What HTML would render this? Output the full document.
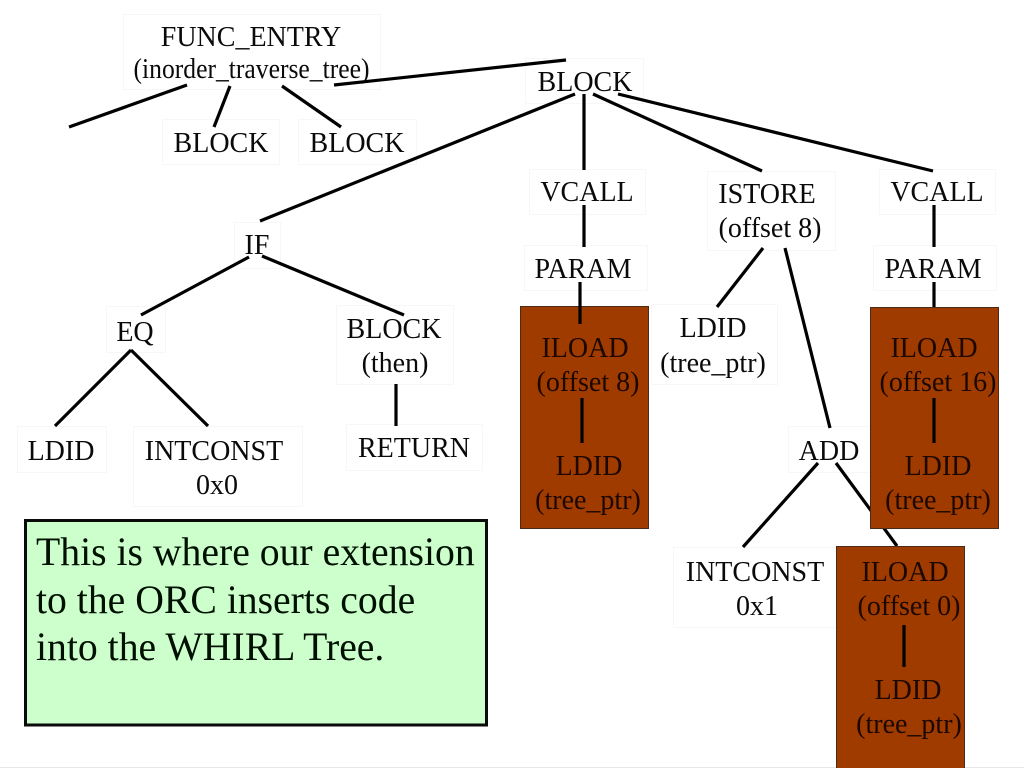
<!DOCTYPE html>
<html>
<head>
<meta charset="utf-8">
<style>
html,body{margin:0;padding:0;background:#fff;width:1024px;height:768px;overflow:hidden}
svg{display:block}
text{font-family:"Liberation Serif",serif;font-size:28px;fill:#0a0a0a;text-anchor:middle}
.b{fill:#fff;stroke:#f7f7f7;stroke-width:1}
.l{stroke:#000;stroke-width:3.2;fill:none}
.br{fill:#a03b00;stroke:#4a2a18;stroke-width:1}
.d{fill:#1c0800}
.c{font-size:39.7px;text-anchor:start;fill:#001000}
</style>
</head>
<body>
<svg width="1024" height="768" viewBox="0 0 1024 768" xmlns="http://www.w3.org/2000/svg">
<rect x="0" y="767" width="1024" height="1" fill="#e8e8e8"/>
<!-- faint boxes -->
<rect class="b" x="123.500" y="14.500" width="257" height="75"/>
<rect class="b" x="162.500" y="119.500" width="117" height="45"/>
<rect class="b" x="298.500" y="119.500" width="118" height="45"/>
<rect class="b" x="525.500" y="58.500" width="118" height="45"/>
<rect class="b" x="234.500" y="222.500" width="46" height="46"/>
<rect class="b" x="529.500" y="169.500" width="116" height="45"/>
<rect class="b" x="707.500" y="171.500" width="128" height="79"/>
<rect class="b" x="879.500" y="169.500" width="116" height="45"/>
<rect class="b" x="524.500" y="245.500" width="123" height="45"/>
<rect class="b" x="873.500" y="245.500" width="123" height="45"/>
<rect class="b" x="651.500" y="304.500" width="126" height="80"/>
<rect class="b" x="788.500" y="426.500" width="82" height="46"/>
<rect class="b" x="673.500" y="547.500" width="163" height="80"/>
<rect class="b" x="106.500" y="306.500" width="59" height="46"/>
<rect class="b" x="336.500" y="305.500" width="117" height="79"/>
<rect class="b" x="17.500" y="426.500" width="89" height="46"/>
<rect class="b" x="133.500" y="426.500" width="169" height="80"/>
<rect class="b" x="346.500" y="424.500" width="136" height="46"/>
<!-- labels on white -->
<text x="251" y="46">FUNC_ENTRY</text>
<text x="251.500" y="78" textLength="236" lengthAdjust="spacingAndGlyphs">(inorder_traverse_tree)</text>
<text x="221" y="152">BLOCK</text>
<text x="357" y="152">BLOCK</text>
<text x="585" y="91">BLOCK</text>
<text x="257" y="254">IF</text>
<text x="587" y="201">VCALL</text>
<text x="767" y="203">ISTORE</text>
<text x="770" y="237">(offset 8)</text>
<text x="937" y="201">VCALL</text>
<text x="583" y="278">PARAM</text>
<text x="933" y="278">PARAM</text>
<text x="713" y="337">LDID</text>
<text x="713" y="372">(tree_ptr)</text>
<text x="829" y="460">ADD</text>
<text x="755" y="581">INTCONST</text>
<text x="757" y="615">0x1</text>
<text x="135" y="341">EQ</text>
<text x="394" y="338">BLOCK</text>
<text x="395" y="372">(then)</text>
<text x="61" y="460">LDID</text>
<text x="214" y="460">INTCONST</text>
<text x="217" y="494">0x0</text>
<text x="414" y="457">RETURN</text>
<!-- connectors under the brown boxes -->
<g class="l">
<line x1="187" y1="85" x2="69" y2="127"/>
<line x1="230" y1="86" x2="214" y2="127"/>
<line x1="282" y1="86" x2="341" y2="127"/>
<line x1="334" y1="85" x2="566" y2="60"/>
<line x1="575" y1="94" x2="260" y2="221"/>
<line x1="584" y1="94" x2="584" y2="170"/>
<line x1="593" y1="94" x2="762" y2="171"/>
<line x1="618" y1="94" x2="933" y2="171"/>
<line x1="584" y1="205" x2="584" y2="247"/>
<line x1="934" y1="205" x2="934" y2="247"/>
<line x1="934" y1="282" x2="934" y2="307"/>
<line x1="763" y1="248" x2="717" y2="307"/>
<line x1="785" y1="248" x2="830" y2="428"/>
<line x1="818" y1="463" x2="743" y2="547"/>
<line x1="836" y1="463" x2="897" y2="546"/>
<line x1="249" y1="257" x2="141" y2="315"/>
<line x1="262" y1="256" x2="404" y2="315"/>
<line x1="131" y1="350" x2="55" y2="426"/>
<line x1="131" y1="350" x2="208" y2="426"/>
<line x1="396" y1="384" x2="396" y2="426"/>
</g>
<!-- brown boxes -->
<rect class="br" x="520.500" y="306.500" width="128" height="222"/>
<rect class="br" x="870.500" y="307.500" width="128" height="221"/>
<rect class="br" x="836.500" y="546.500" width="128" height="222"/>
<g class="l">
<line x1="580" y1="282" x2="580" y2="324"/>
<line x1="582" y1="398" x2="582" y2="443"/>
<line x1="934" y1="398" x2="934" y2="443"/>
<line x1="904" y1="625" x2="904" y2="667"/>
</g>
<text class="d" x="585" y="357">ILOAD</text>
<text class="d" x="588" y="391">(offset 8)</text>
<text class="d" x="589" y="475">LDID</text>
<text class="d" x="588" y="509">(tree_ptr)</text>
<text class="d" x="934" y="357">ILOAD</text>
<text class="d" x="938" y="391">(offset 16)</text>
<text class="d" x="938" y="475">LDID</text>
<text class="d" x="938" y="509">(tree_ptr)</text>
<text class="d" x="905" y="581">ILOAD</text>
<text class="d" x="909" y="615">(offset 0)</text>
<text class="d" x="908" y="699">LDID</text>
<text class="d" x="909" y="733">(tree_ptr)</text>
<!-- callout -->
<rect x="25.500" y="520.500" width="461" height="204.500" fill="#ccffcc" stroke="#0a0a0a" stroke-width="3"/>
<text class="c" x="36" y="565">This is where our extension</text>
<text class="c" x="36" y="613">to the ORC inserts code</text>
<text class="c" x="36" y="660">into the WHIRL Tree.</text>
</svg>
</body>
</html>
